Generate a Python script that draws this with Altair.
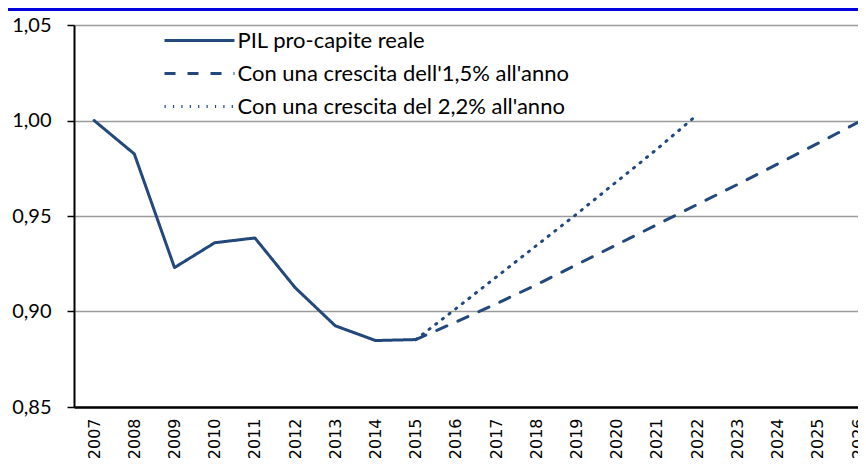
import altair as alt
import pandas as pd

years_pil = [2007, 2008, 2009, 2010, 2011, 2012, 2013, 2014, 2015]
pil = [1.000, 0.9825, 0.923, 0.936, 0.9385, 0.9125, 0.8925, 0.8848, 0.8853]

years_15 = [2015, 2016, 2017, 2018, 2019, 2020, 2021, 2022, 2023, 2024, 2025, 2026]
cresc_15 = [0.8853, 0.8945, 0.904, 0.914, 0.9245, 0.935, 0.9455, 0.956, 0.9665, 0.9772, 0.988, 0.999]

years_22 = [2015, 2016, 2017, 2018, 2019, 2020, 2021, 2022]
cresc_22 = [0.8853, 0.9015, 0.918, 0.9345, 0.951, 0.968, 0.985, 1.003]

tick_years = list(range(2007, 2027))
y_ticks = [0.85, 0.90, 0.95, 1.00, 1.05]

s1 = "PIL pro-capite reale"
s2 = "Con una crescita dell'1,5% all'anno"
s3 = "Con una crescita del 2,2% all'anno"
series_names = [s1, s2, s3]

rows = []
for y, v in zip(years_pil, pil):
    rows.append({"anno": y, "valore": v, "serie": s1})
for y, v in zip(years_15, cresc_15):
    rows.append({"anno": y, "valore": v, "serie": s2})
for y, v in zip(years_22, cresc_22):
    rows.append({"anno": y, "valore": v, "serie": s3})
df = pd.DataFrame(rows)

COLOR = "#23497c"
W, H = 784, 382

lines = alt.Chart(df).mark_line(color=COLOR, strokeWidth=3, strokeCap="round", strokeJoin="round").encode(
    x=alt.X("anno:Q",
            scale=alt.Scale(domain=[2006.5, 2026.0], nice=False, zero=False),
            axis=alt.Axis(values=tick_years, format="d", labelAngle=-90, grid=False, ticks=False,
                          domainColor="black", domainWidth=2.5, labelFont="DejaVu Sans",
                          labelFontSize=16, labelPadding=11, labelColor="black",
                          labelFlush=False, labelOverlap=False, title=None)),
    y=alt.Y("valore:Q",
            scale=alt.Scale(domain=[0.85, 1.05], nice=False, zero=False),
            axis=alt.Axis(values=y_ticks,
                          labelExpr="replace(format(datum.value, '.2f'), '.', ',')",
                          tickSize=7, tickColor="black", tickWidth=1.5,
                          domainColor="black", domainWidth=2,
                          gridColor="#9b9b9b", gridWidth=1.5,
                          labelFontSize=20, labelFont="Lato", labelColor="black",
                          labelPadding=16, title=None)),
    strokeDash=alt.StrokeDash("serie:N",
                              scale=alt.Scale(domain=series_names,
                                              range=[[1, 0], [11, 12], [1.2, 7.2]]),
                              sort=series_names,
                              legend=alt.Legend(orient="none", legendX=107.5, legendY=-2.5, title=None,
                                                symbolType="M-2.12,0L2.12,0", symbolSize=1089,
                                                symbolStrokeWidth=3, symbolStrokeColor=COLOR,
                                                symbolFillColor="transparent",
                                                labelFontSize=22, labelFont="Lato",
                                                labelColor="black", labelOffset=20,
                                                labelLimit=600,
                                                rowPadding=4, padding=0)),
    order="anno:Q",
)

top_rule = alt.Chart(pd.DataFrame({"a": [0]})).mark_rule(color="#0000dd", strokeWidth=3).encode(
    x=alt.value(-66), x2=alt.value(W), y=alt.value(-15.5)
)

chart = alt.layer(lines, top_rule).properties(
    width=W, height=H,
    padding={"left": 66, "top": 17, "right": 0, "bottom": 53},
    autosize=alt.AutoSizeParams(type="none"),
    background="white",
).configure_view(strokeWidth=0)

chart.save("out.html", embed_options={"renderer": "svg", "actions": False})
